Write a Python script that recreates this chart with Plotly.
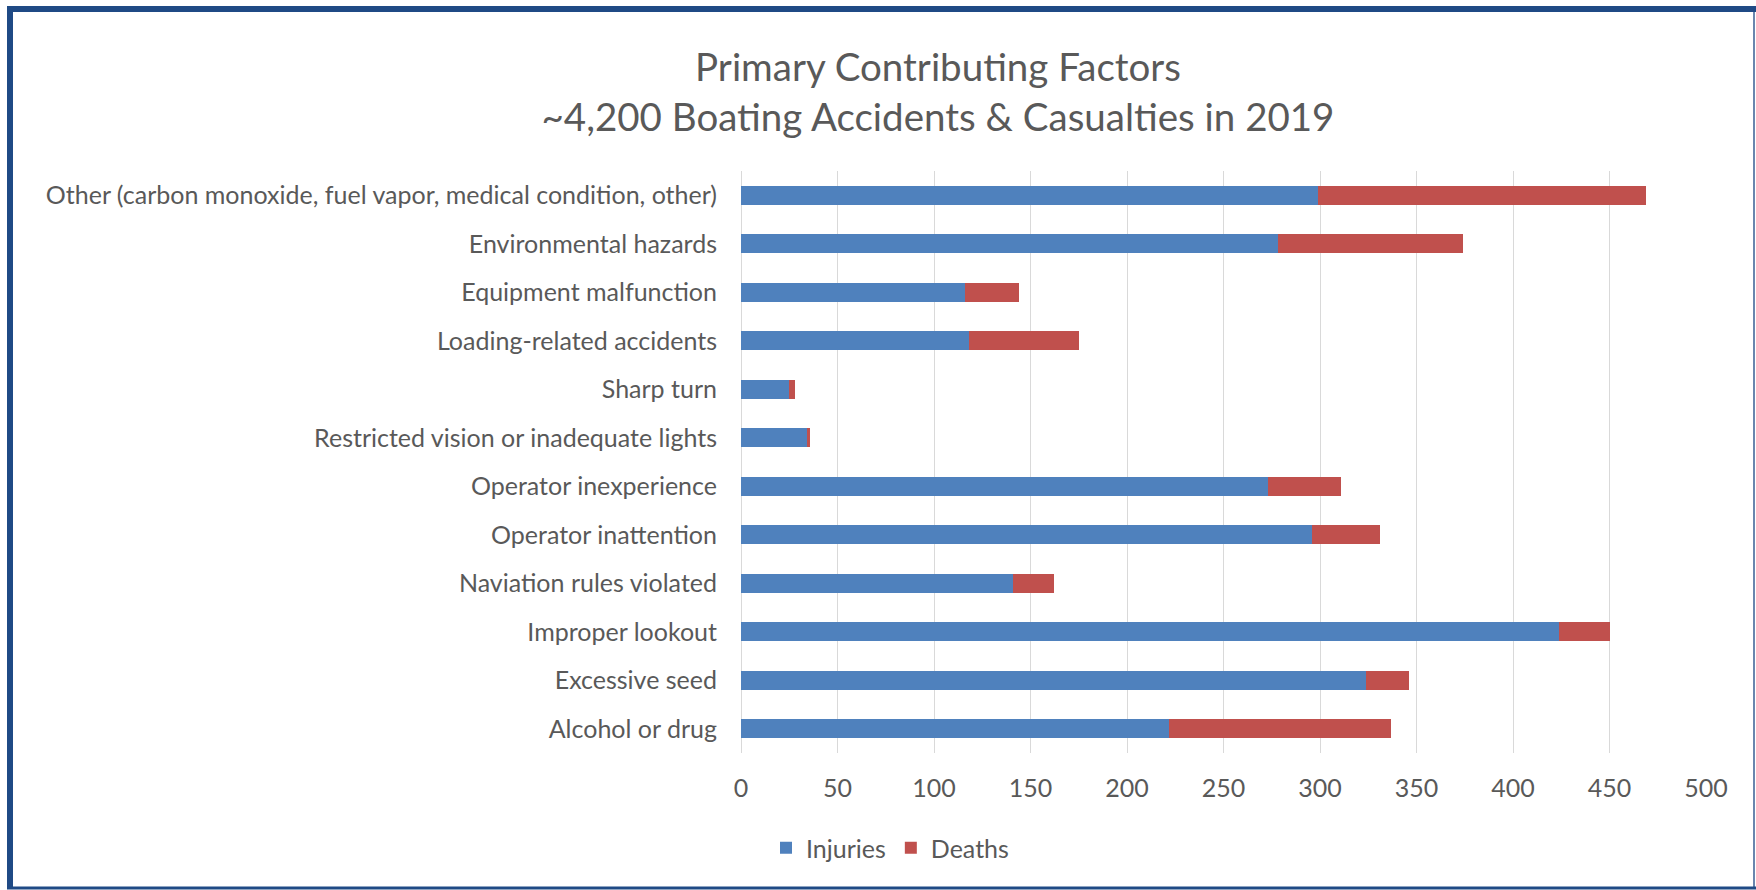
import plotly.graph_objects as go

categories = [
    "Alcohol or drug",
    "Excessive seed",
    "Improper lookout",
    "Naviation rules violated",
    "Operator inattention",
    "Operator inexperience",
    "Restricted vision or inadequate lights",
    "Sharp turn",
    "Loading-related accidents",
    "Equipment malfunction",
    "Environmental hazards",
    "Other (carbon monoxide, fuel vapor, medical condition, other)",
]
injuries = [222, 324, 424, 141, 296, 273, 34, 25, 118, 116, 278, 299]
deaths = [115, 22, 26, 21, 35, 38, 2, 3, 57, 28, 96, 170]
x_ticks = [0, 50, 100, 150, 200, 250, 300, 350, 400, 450, 500]

W, H = 1756, 890
L, R, T, B = 741, 50, 171, 137
PW = W - L - R
PH = H - T - B

def px(xp):
    return (xp - L) / PW

def py(yp):
    return (H - B - yp) / PH

FONT = "Lato"
GRAY = "#595959"
FS = 25

fig = go.Figure()
fig.add_trace(go.Bar(y=categories, x=injuries, name="Injuries", orientation="h",
                     marker=dict(color="#4F81BD", line=dict(width=0))))
fig.add_trace(go.Bar(y=categories, x=deaths, name="Deaths", orientation="h",
                     marker=dict(color="#C0504D", line=dict(width=0))))

frame = "#1F4A85"
shapes = [
    dict(type="line", xref="paper", yref="paper", x0=px(10), x1=px(10), y0=py(6), y1=py(889),
         line=dict(color=frame, width=6)),
    dict(type="line", xref="paper", yref="paper", x0=px(7), x1=px(1756), y0=py(9), y1=py(9),
         line=dict(color=frame, width=6)),
    dict(type="line", xref="paper", yref="paper", x0=px(1754), x1=px(1754), y0=py(12), y1=py(889),
         line=dict(color="#6A86AE", width=2)),
    dict(type="line", xref="paper", yref="paper", x0=px(7), x1=px(1756), y0=py(888), y1=py(888),
         line=dict(color=frame, width=3)),
]

fig.update_layout(
    width=W, height=H,
    margin=dict(l=L, r=R, t=T, b=B),
    barmode="stack",
    bargap=0.6,
    paper_bgcolor="white",
    plot_bgcolor="white",
    font=dict(family=FONT, color=GRAY, size=FS),
    title=dict(
        text="Primary Contributing Factors<br>~4,200 Boating Accidents & Casualties in 2019",
        x=938 / W, xanchor="center", xref="container",
        y=1 - 80.5 / H, yanchor="middle", yref="container",
        font=dict(family=FONT, size=38.5, color=GRAY),
    ),
    xaxis=dict(
        range=[0, 500], tickvals=x_ticks, ticktext=[str(v) for v in x_ticks],
        showgrid=True, gridcolor="#D9D9D9", gridwidth=1,
        zeroline=True, zerolinecolor="#D9D9D9", zerolinewidth=1,
        showline=False, ticks="", ticklabelstandoff=18,
        tickfont=dict(family=FONT, size=FS, color=GRAY),
        fixedrange=True,
    ),
    yaxis=dict(
        categoryorder="array", categoryarray=categories,
        showgrid=False, showline=False, ticks="", ticklabelstandoff=23,
        tickfont=dict(family=FONT, size=FS, color=GRAY),
        fixedrange=True,
    ),
    legend=dict(
        orientation="h", x=px(766), xanchor="left", y=py(848), yanchor="middle",
        font=dict(family=FONT, size=FS, color=GRAY),
        itemwidth=30, traceorder="normal",
    ),
    shapes=shapes,
)

fig.write_html("out.html", config={"displayModeBar": False},
               post_script="document.body.style.margin='0';document.body.style.overflow='hidden';")
